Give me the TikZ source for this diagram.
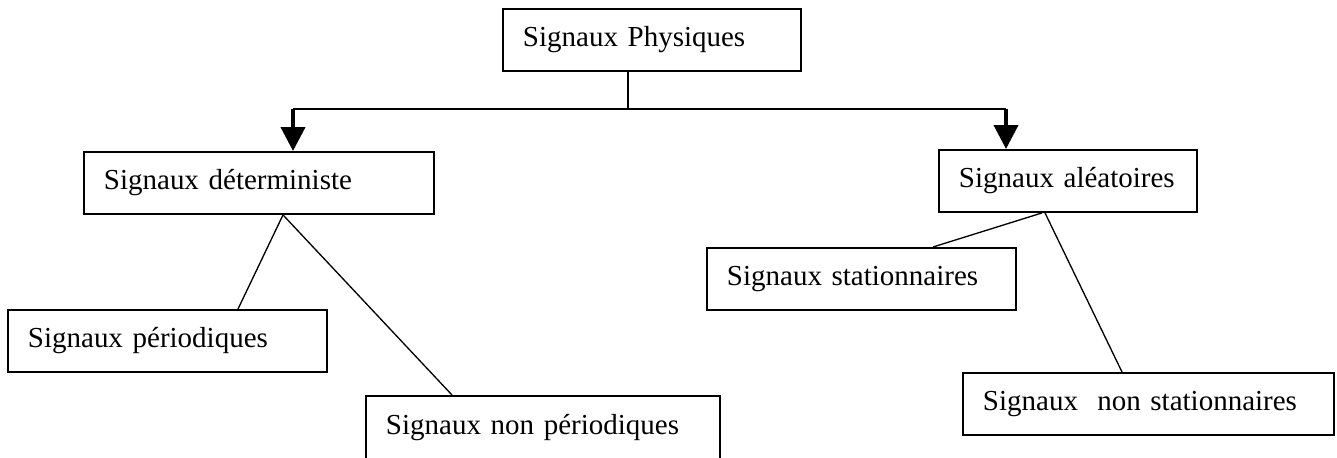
\documentclass[tikz,border=0pt]{standalone}
\usepackage{fontspec}
\setmainfont{Liberation Serif}
\usepackage{tikz}
\usetikzlibrary{arrows.meta,calc}

\begin{document}
\begin{tikzpicture}[
      x=0.02cm, y=-0.02cm,
      box/.style={draw, line width=1.1pt, anchor=north west, minimum height=1.24cm,
                  inner xsep=0.4cm, inner ysep=0pt, align=left,
                  font=\fontsize{16.5}{19.8}\selectfont},
      lien/.style={line width=0.75pt},
      fleche/.style={line width=2.3pt, -{Triangle[length=0.48cm, width=0.48cm]}}
    ]
    \useasboundingbox (0,0) rectangle (1337,457);
    \node[box, text width=5.16cm] (phys) at (502,8) {Signaux Physiques};
    \node[box, text width=6.2cm] (det) at (83,151) {Signaux déterministe};
    \node[box, text width=4.36cm] (ale) at (938,149) {Signaux aléatoires};
    \node[box, text width=5.38cm] (stat) at (706,247) {Signaux stationnaires};
    \node[box, text width=5.58cm] (per) at (7,309) {Signaux périodiques};
    \node[box, text width=6.28cm, minimum height=1.27cm] (nonper) at (365,395) {Signaux non périodiques};
    \node[box, text width=6.62cm] (nonstat) at (962,372) {Signaux~ non stationnaires};

    % bus from the top box to the two classes
    \coordinate (bl) at (293,109);
    \coordinate (br) at (1006,109);
    \draw[lien] ($(phys.south west)+(126,0)$) coordinate (drop) -- (drop |- bl);
    \draw[lien] (bl) -- (br);
    \draw[fleche] (bl) -- (bl |- det.north);
    \draw[fleche] (br) -- (br |- ale.north);

    % sub classes
    \draw[lien] ($(det.south west)+(200,0)$) -- ($(per.north west)+(231,0)$);
    \draw[lien] ($(det.south west)+(200,0)$) -- ($(nonper.north west)+(87,0)$);
    \draw[lien] ($(ale.south west)+(104,0)$) -- ($(stat.north west)+(227,0)$);
    \draw[lien] ($(ale.south west)+(107,0)$) -- ($(nonstat.north west)+(160,0)$);
  \end{tikzpicture}
\end{document}
